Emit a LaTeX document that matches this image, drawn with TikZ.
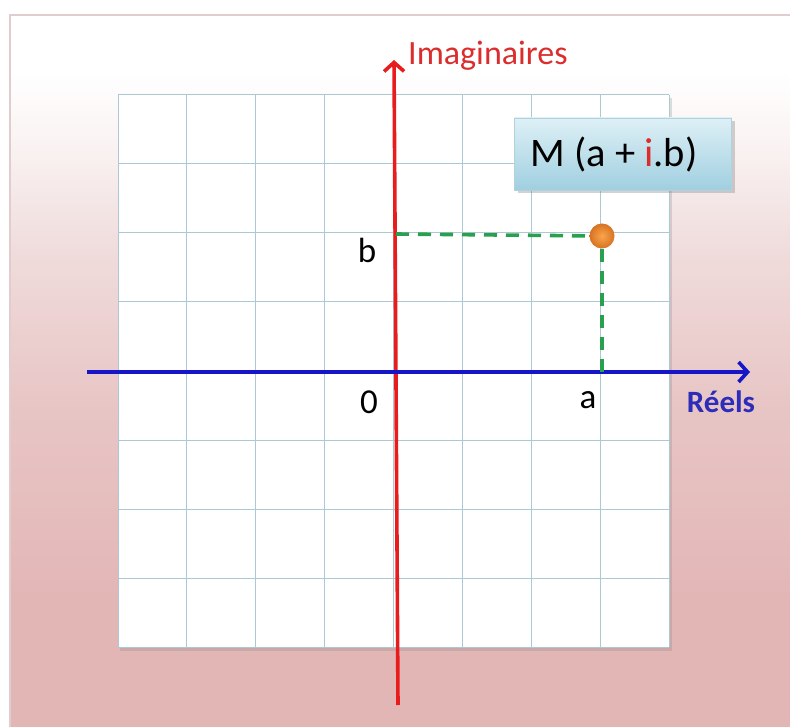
\documentclass[tikz,border=0pt]{standalone}
\usepackage{fontspec}
\setmainfont{Carlito}
\usetikzlibrary{arrows.meta,shadows}
\definecolor{pinkA}{RGB}{227,182,182}
\definecolor{pinkB}{RGB}{232,198,198}
\definecolor{pinkC}{RGB}{240,220,220}
\definecolor{pinkD}{RGB}{250,243,243}
\definecolor{framecol}{RGB}{225,205,205}
\definecolor{gridcol}{RGB}{172,200,212}
\definecolor{axred}{RGB}{232,28,28}
\definecolor{axblue}{RGB}{22,22,200}
\definecolor{txtred}{RGB}{220,45,45}
\definecolor{txtblue}{RGB}{45,45,185}
\definecolor{dashgreen}{RGB}{40,160,80}
\definecolor{boxtop}{RGB}{222,240,246}
\definecolor{boxbot}{RGB}{160,207,224}
\definecolor{boxline}{RGB}{175,210,222}
\definecolor{dotin}{RGB}{250,165,75}
\definecolor{dotout}{RGB}{215,115,35}
\pgfdeclareverticalshading{bgshade}{100bp}{color(0bp)=(pinkA); color(25bp)=(pinkA); color(34bp)=(pinkA); color(48bp)=(pinkB); color(58.5bp)=(pinkC); color(66bp)=(pinkD); color(71bp)=(white); color(75bp)=(white); color(100bp)=(white)}
\tikzset{
  gridline/.style={draw=gridcol, line width=1pt},
  axisline/.style={line width=3.6pt, -{Straight Barb[length=9pt,width=20pt,line width=3.6pt]}},
  greendash/.style={draw=dashgreen, line width=3.6pt, dash pattern=on 13pt off 9pt},
  lbl/.style={font=\fontsize{35}{40}\selectfont, text=black, inner sep=0pt},
  mbox/.style={draw=boxline, line width=0.8pt, top color=boxtop, bottom color=boxbot,
     minimum width=217pt, minimum height=72pt, inner sep=0pt,
     font=\fontsize{40.5}{46}\selectfont,
     drop shadow={shadow xshift=3pt, shadow yshift=-3pt, opacity=0.35, fill=gray}},
  mdot/.style={circle, minimum size=25pt, inner sep=0pt, inner color=dotin, outer color=dotout}
}
\begin{document}
\begin{tikzpicture}[x=1pt,y=-1pt]
\useasboundingbox (0,0) rectangle (790,727);
\fill[white] (0,0) rectangle (790,727);
\shade[shading=bgshade] (10,15) rectangle (790,727);
\draw[framecol, line width=1.5pt] (10,727) -- (10,15) -- (790,15);
% grid
\fill[gray, opacity=0.25] (120,98) rectangle (672,651);
\fill[white] (118,95) rectangle (669,647);
\foreach \i in {0,...,8} \draw[gridline] ({118+\i*68.875},95) -- ({118+\i*68.875},647);
\foreach \j in {0,...,8} \draw[gridline] (118,{95+\j*69}) -- (669,{95+\j*69});
% axes
\coordinate (ybot) at (398,705);
\coordinate (ytop) at (394,60);
\coordinate (xl) at (87,372);
\coordinate (xr) at (750,372);
\draw[axisline, draw=axred] (ybot) -- (ytop);
\draw[axisline, draw=axblue] (xl) -- (xr);
% point
\coordinate (bpt) at (396,234);
\coordinate (apt) at (602,372);
\node[mdot] (M) at (602,236) {};
\draw[greendash] (bpt) -- (M);
\draw[greendash] (M) -- (apt);
% labels
\node[font=\fontsize{34}{38}\selectfont, text=txtred, anchor=base west, inner sep=0pt] (imag) at (408,65) {Imaginaires};
\node[font=\fontsize{31}{36}\selectfont\bfseries, text=txtblue, anchor=base, inner sep=0pt] (reels) at (721,412) {Réels};
\node[lbl, anchor=base] (lb) at (367,263) {b};
\node[lbl, anchor=base] (l0) at (369,413) {0};
\node[lbl, anchor=base] (la) at (588,408) {a};
\node[mbox] (box) at (623,154) {M (a + \textcolor{txtred}{i}.b)\kern18pt};
\end{tikzpicture}
\end{document}
